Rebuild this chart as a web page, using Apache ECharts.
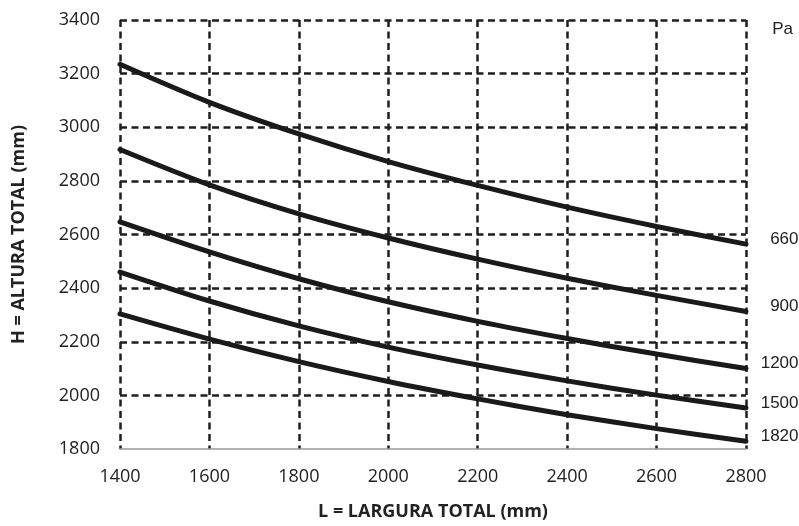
<!DOCTYPE html>
<html>
<head>
<meta charset="utf-8">
<script src="https://cdn.jsdelivr.net/npm/echarts@6/dist/echarts.min.js"></script>
<style>
  html, body { margin: 0; padding: 0; background: #fff; }
  #chart { width: 799px; height: 526px; }
</style>
</head>
<body>
<div id="chart"></div>
<script>
// largura total (mm)
var larguras = [1400, 1600, 1800, 2000, 2200, 2400, 2600, 2800];
// pressao (Pa) de cada curva
var pressoes = ['660', '900', '1200', '1500', '1820'];
// altura total (mm) por curva
var h660  = [3235, 3093, 2975, 2872, 2783, 2702, 2630, 2564];
var h900  = [2917, 2785, 2677, 2587, 2508, 2437, 2373, 2313];
var h1200 = [2647, 2535, 2435, 2349, 2276, 2212, 2154, 2100];
var h1500 = [2460, 2352, 2259, 2180, 2113, 2054, 2001, 1953];
var h1820 = [2304, 2210, 2126, 2052, 1987, 1928, 1876, 1829];
var alturas = [h660, h900, h1200, h1500, h1820];

var myChart = echarts.init(document.getElementById('chart'));

var dashed = { color: '#1e1e1e', width: 2.5, type: [7, 4.5] };
var ultimo = larguras.length - 1;

var series = [];
for (var i = 0; i < pressoes.length; i++) {
    series.push({
        name: pressoes[i],
        type: 'line',
        smooth: 0.3,
        symbol: 'none',
        data: larguras.map(function (x, j) { return [x, alturas[i][j]]; }),
        lineStyle: { color: '#1a1a1a', width: 5, cap: 'round' },
        markPoint: {
            symbol: 'circle',
            symbolSize: 1,
            itemStyle: { color: 'transparent' },
            silent: true,
            data: [{ coord: [larguras[ultimo], alturas[i][ultimo]], value: pressoes[i] }],
            label: {
                show: true,
                position: 'right',
                distance: 52,
                align: 'right',
                offset: [0, -5],
                formatter: '{c}',
                color: '#222',
                fontFamily: 'Liberation Sans',
                fontWeight: 'normal',
                fontSize: 17
            }
        },
        z: 3
    });
}

var option = {
    backgroundColor: '#fff',
    animation: false,
    title: {
        text: 'Pa',
        right: 1,
        top: 16,
        textStyle: { color: '#222', fontFamily: 'Liberation Sans', fontSize: 17, fontWeight: 'normal' }
    },
    grid: { left: 120, right: 53, top: 20, bottom: 77 },
    xAxis: {
        type: 'value',
        min: 1400,
        max: 2800,
        interval: 200,
        name: 'L = LARGURA TOTAL (mm)',
        nameLocation: 'middle',
        nameGap: 54,
        nameTextStyle: { color: '#222', fontFamily: 'Open Sans', fontWeight: 'bold', fontSize: 18 },
        axisLine: { show: true, lineStyle: { color: '#999', width: 1.5 } },
        axisTick: { show: false },
        axisLabel: {
            color: '#222', fontFamily: 'Open Sans', fontSize: 18, margin: 19,
            formatter: function (v) { return String(v); }
        },
        splitLine: { show: true, lineStyle: dashed }
    },
    yAxis: {
        type: 'value',
        min: 1800,
        max: 3400,
        interval: 200,
        name: 'H = ALTURA TOTAL (mm)',
        nameLocation: 'middle',
        nameGap: 92,
        nameTextStyle: { color: '#222', fontFamily: 'Open Sans', fontWeight: 'bold', fontSize: 18 },
        axisLine: { show: false },
        axisTick: { show: false },
        axisLabel: {
            color: '#222', fontFamily: 'Open Sans', fontSize: 18, margin: 20,
            formatter: function (v) { return String(v); }
        },
        splitLine: { show: true, showMinLine: false, lineStyle: dashed }
    },
    series: series
};

myChart.setOption(option);
</script>
</body>
</html>
